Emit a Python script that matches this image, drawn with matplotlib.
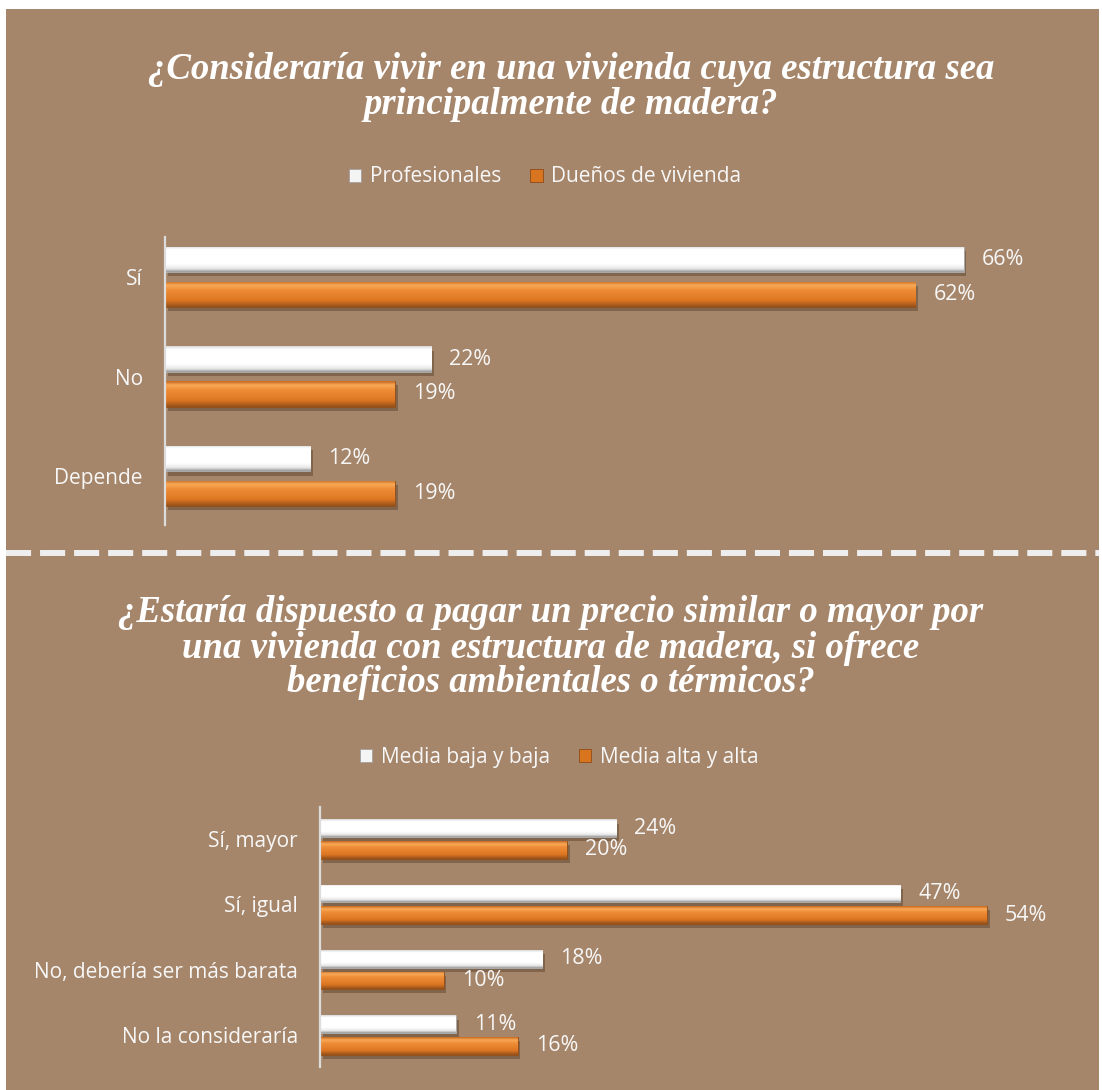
import matplotlib
matplotlib.use("Agg")
import matplotlib.pyplot as plt
import matplotlib.patheffects as pe
from matplotlib.patches import Patch, Rectangle
from matplotlib.lines import Line2D
import numpy as np

# ---------------- data ----------------
title1 = "¿Consideraría vivir en una vivienda cuya estructura sea\nprincipalmente de madera?"
cats1 = ["Sí", "No", "Depende"]
series1_names = ["Profesionales", "Dueños de vivienda"]
profesionales = [66, 22, 12]
duenos = [62, 19, 19]

title2 = ("¿Estaría dispuesto a pagar un precio similar o mayor por\n"
          "una vivienda con estructura de madera, si ofrece\n"
          "beneficios ambientales o térmicos?")
cats2 = ["Sí, mayor", "Sí, igual", "No, debería ser más barata", "No la consideraría"]
series2_names = ["Media baja y baja", "Media alta y alta"]
media_baja = [24, 47, 18, 11]
media_alta = [20, 54, 10, 16]

# ---------------- style ----------------
W, H = 1102, 1090
BG = "#A6866A"
WHITE_BAR = "#FCFCFC"
ORANGE_BAR = "#E27A26"
TXT = "#F7F7F7"
SANS = ["Open Sans", "DejaVu Sans"]
SERIF = ["Liberation Serif", "DejaVu Serif"]

fig = plt.figure(figsize=(W / 100, H / 100), dpi=100)
fig.patch.set_facecolor("white")
# brown panel
fig.add_artist(Rectangle((6 / W, 0), (1099 - 6) / W, (H - 9) / H,
                         transform=fig.transFigure, facecolor=BG,
                         edgecolor="none", zorder=0))


def fx(px):
    return px / W


def fy(py):
    return 1 - py / H


def gradient_fill(ax, bar, stops):
    x0, y0 = bar.get_x(), bar.get_y()
    w, h = bar.get_width(), bar.get_height()
    n = 64
    t = np.linspace(0, 1, n)
    cols = np.array([matplotlib.colors.to_rgb(c) for _, c in stops])
    pos = np.array([p for p, _ in stops])
    img = np.stack([np.interp(t, pos, cols[:, k]) for k in range(3)], axis=-1)
    img = img[:, None, :]
    im = ax.imshow(img, extent=(x0, x0 + w, y0 + h, y0), aspect="auto",
                   interpolation="bilinear", zorder=bar.get_zorder() + 0.1,
                   origin="upper")
    im.set_clip_path(bar)


WHITE_STOPS = [(0.0, "#D8D8D8"), (0.12, "#FFFFFF"), (0.7, "#FFFFFF"),
               (0.88, "#E6E6E6"), (1.0, "#9A9A9A")]
ORANGE_STOPS = [(0.0, "#C7681E"), (0.15, "#F8A957"), (0.35, "#EE8C36"),
                (0.75, "#DD7622"), (1.0, "#94501A")]


def draw_chart(rect, cats, s1, s2, xmax, ylim, off, bh):
    ax = fig.add_axes(rect)
    ax.set_facecolor("none")
    y = np.arange(len(cats))
    shadow = [pe.SimplePatchShadow(offset=(2, -3), shadow_rgbFace="#5E4430",
                                   alpha=0.5), pe.Normal()]
    b1 = ax.barh(y - off, s1, height=bh, color=WHITE_BAR, edgecolor="#A8A8A8",
                 linewidth=0.6, zorder=3)
    b2 = ax.barh(y + off, s2, height=bh, color=ORANGE_BAR, edgecolor="#8E4C18",
                 linewidth=0.6, zorder=3)
    for b in list(b1) + list(b2):
        b.set_path_effects(shadow)
    for b in b1:
        gradient_fill(ax, b, WHITE_STOPS)
    for b in b2:
        gradient_fill(ax, b, ORANGE_STOPS)
    for bars, vals in ((b1, s1), (b2, s2)):
        for b, v in zip(bars, vals):
            ax.annotate(f"{v}%", (b.get_width(), b.get_y() + b.get_height() / 2),
                        xytext=(13, 0), textcoords="offset points",
                        ha="left", va="center", color=TXT, fontsize=15.5,
                        family=SANS, zorder=5)
    ax.set_xlim(0, xmax)
    ax.set_ylim(*ylim)
    ax.set_yticks(y)
    ax.set_yticklabels(cats, family=SANS, fontsize=15, color=TXT)
    ax.tick_params(axis="y", length=0, pad=16)
    ax.set_xticks([])
    for s in ("top", "right", "bottom"):
        ax.spines[s].set_visible(False)
    ax.spines["left"].set_color("#DCDCDC")
    ax.spines["left"].set_linewidth(1.6)
    ax.spines["left"].set_zorder(6)
    return ax


# top chart
ax1 = draw_chart([fx(165), fy(525), fx(70 * 12.1), (525 - 237) / H],
                 cats1, profesionales, duenos, 70, (2.49, -0.40), 0.175, 0.255)
# bottom chart
ax2 = draw_chart([fx(320), fy(1067), fx(60 * 12.35), (1067 - 807) / H],
                 cats2, media_baja, media_alta, 60, (3.49, -0.49), 0.165, 0.27)

# titles
fig.text(fx(571), fy(87), title1, ha="center", va="center", color="white",
         fontsize=26.5, family=SERIF, style="italic", weight="bold",
         linespacing=0.97)
fig.text(fx(551), fy(648), title2, ha="center", va="center", color="white",
         fontsize=26.5, family=SERIF, style="italic", weight="bold",
         linespacing=1.0)

# legends
def make_legend(names, cy, cx):
    handles = [Patch(facecolor="#F4F4F4", edgecolor="#A0A0A0", linewidth=0.6),
               Patch(facecolor="#D9741F", edgecolor="#8E4C18", linewidth=0.6)]
    leg = fig.legend(handles, names, loc="center", bbox_to_anchor=(fx(cx), fy(cy)),
                     ncol=2, frameon=False, handlelength=0.6, handleheight=0.6,
                     handletextpad=0.4, columnspacing=1.4,
                     prop={"family": SANS, "size": 15})
    for t in leg.get_texts():
        t.set_color(TXT)
    return leg


make_legend(series1_names, 177, 545)
make_legend(series2_names, 757, 559)

# dashed separator
fig.add_artist(Line2D([fx(6), fx(1099)], [fy(553), fy(553)],
                      transform=fig.transFigure, color="#EEEEEE", linewidth=4.3,
                      dashes=(4.2, 1.5), solid_capstyle="butt",
                      dash_capstyle="butt", zorder=1))

fig.savefig("out.png", dpi=100, facecolor=fig.get_facecolor())
